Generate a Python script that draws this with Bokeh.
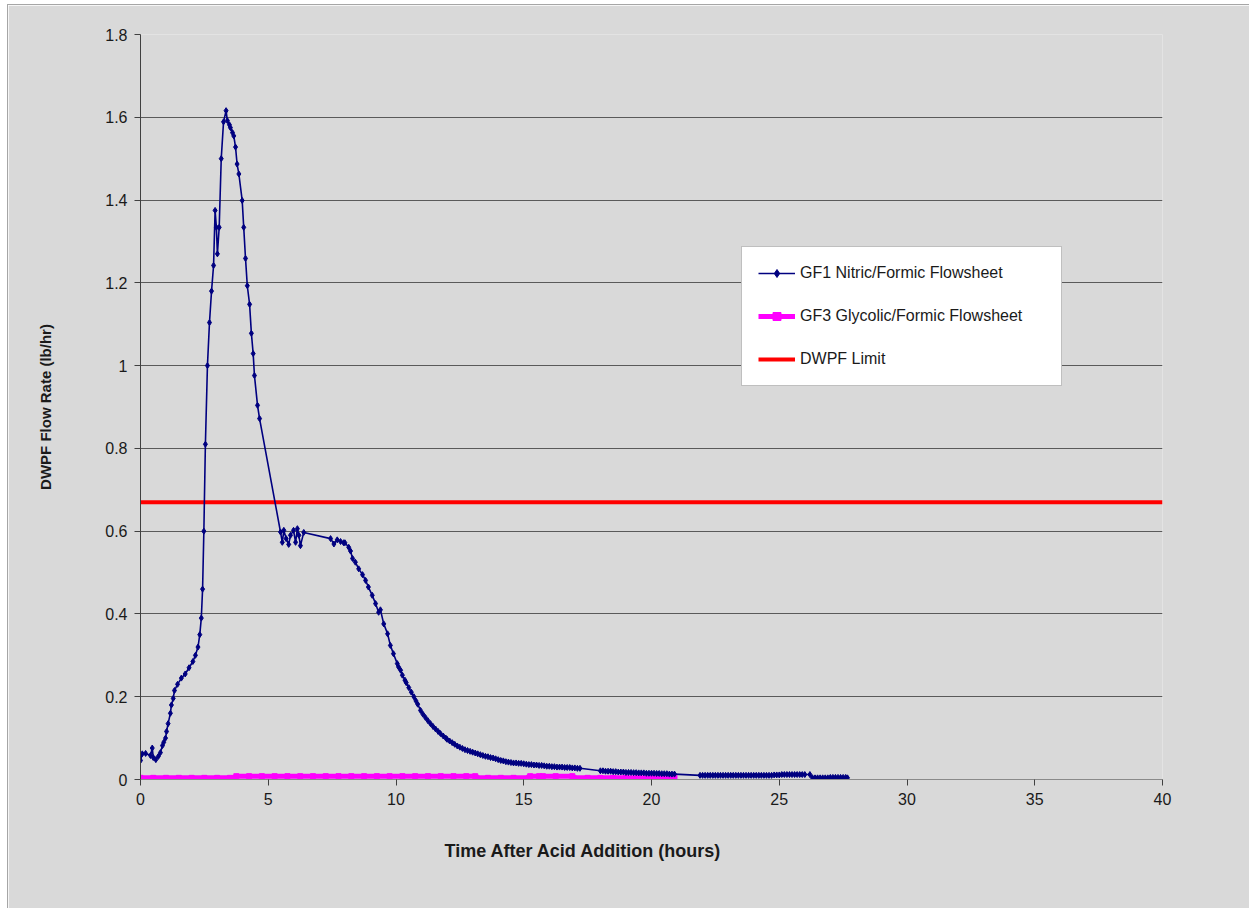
from bokeh.plotting import figure
from bokeh.models import (Range1d, FixedTicker, Legend, LegendItem, Title)
from bokeh.embed import file_html
from bokeh.resources import INLINE

# ---- data ----
gf1_head_x = [0.0, 0.07, 0.2, 0.39, 0.46, 0.5, 0.6, 0.7, 0.78, 0.86, 0.91, 0.98, 1.02, 1.08,
              1.17, 1.21, 1.28, 1.33, 1.45, 1.6, 1.75, 1.9, 2.05, 2.15, 2.25, 2.32, 2.38,
              2.43, 2.48, 2.54, 2.62, 2.70, 2.78, 2.86, 2.92, 2.97, 3.01, 3.08, 3.16, 3.25,
              3.35, 3.4, 3.48, 3.52, 3.6, 3.65, 3.72, 3.78, 3.85, 3.98, 4.04, 4.11, 4.18,
              4.27, 4.34, 4.41, 4.46, 4.58, 4.66, 5.48, 5.55, 5.61, 5.7, 5.8, 5.87, 5.99,
              6.07, 6.14, 6.2, 6.26, 6.39, 7.44, 7.57, 7.7, 7.83, 7.95, 8.0, 8.15, 8.22,
              8.3, 8.41, 8.54, 8.69, 8.81, 8.92, 9.07, 9.2, 9.32, 9.39, 9.52, 9.67, 9.78,
              9.9, 10.05, 10.1, 10.18, 10.25, 10.35, 10.4, 10.5, 10.6, 10.7, 10.78, 10.85,
              10.96, 11.05, 11.15, 11.25, 11.35, 11.45, 11.55, 11.65, 11.74, 11.85, 11.95]
gf1_head_y = [0.046, 0.062, 0.063, 0.058, 0.076, 0.053, 0.048, 0.056, 0.065, 0.082, 0.09,
              0.10, 0.116, 0.135, 0.16, 0.18, 0.196, 0.215, 0.23, 0.245, 0.255, 0.27, 0.285,
              0.30, 0.32, 0.35, 0.39, 0.46, 0.60, 0.81, 1.0, 1.104, 1.18, 1.242, 1.375,
              1.334, 1.27, 1.334, 1.50, 1.589, 1.616, 1.592, 1.582, 1.575, 1.563, 1.555,
              1.528, 1.487, 1.463, 1.399, 1.334, 1.259, 1.193, 1.148, 1.078, 1.029, 0.976,
              0.904, 0.872, 0.598, 0.573, 0.602, 0.582, 0.568, 0.59, 0.602, 0.573, 0.606,
              0.59, 0.565, 0.597, 0.582, 0.569, 0.579, 0.575, 0.572, 0.572, 0.561, 0.552,
              0.534, 0.525, 0.509, 0.495, 0.481, 0.465, 0.445, 0.425, 0.404, 0.41, 0.376,
              0.352, 0.324, 0.304, 0.28, 0.272, 0.264, 0.252, 0.24, 0.234, 0.222, 0.211,
              0.20, 0.19, 0.182, 0.167, 0.158, 0.15, 0.142, 0.135, 0.128, 0.122, 0.116,
              0.111, 0.105, 0.10]

gf1_tail_x = [12.0, 12.1, 12.2, 12.3, 12.4, 12.5, 12.6, 12.7, 12.8, 12.9, 13.0, 13.1, 13.2,
              13.3, 13.4, 13.5, 13.6, 13.7, 13.8, 13.9, 14.0, 14.1, 14.2, 14.3, 14.4, 14.5,
              14.6, 14.7, 14.8, 14.9, 15.0, 15.1, 15.2, 15.3, 15.4, 15.5, 15.6, 15.7, 15.8,
              15.9, 16.0, 16.1, 16.2, 16.3, 16.4, 16.5, 16.6, 16.7, 16.8, 16.9, 17.0, 17.1,
              17.2, 18.0, 18.1, 18.2, 18.3, 18.4, 18.5, 18.6, 18.7, 18.8, 18.9, 19.0, 19.1,
              19.2, 19.3, 19.4, 19.5, 19.6, 19.7, 19.8, 19.9, 20.0, 20.1, 20.2, 20.3, 20.4,
              20.5, 20.6, 20.7, 20.8, 20.9, 21.9, 22.0, 22.1, 22.2, 22.3, 22.4, 22.5, 22.6,
              22.7, 22.8, 22.9, 23.0, 23.1, 23.2, 23.3, 23.4, 23.5, 23.6, 23.7, 23.8, 23.9,
              24.0, 24.1, 24.2, 24.3, 24.4, 24.5, 24.6, 24.7, 24.8, 24.9, 25.0, 25.1, 25.2,
              25.3, 25.4, 25.5, 25.6, 25.7, 25.8, 25.9, 26.0, 26.2, 26.3, 26.4, 26.5, 26.6,
              26.7, 26.8, 26.9, 27.0, 27.1, 27.2, 27.3, 27.4, 27.5, 27.6, 27.67]
gf1_tail_y = [0.097, 0.093, 0.089, 0.085, 0.081, 0.078, 0.075, 0.072, 0.070, 0.068, 0.066,
              0.064, 0.062, 0.060, 0.058, 0.056, 0.055, 0.053, 0.052, 0.050, 0.048, 0.046,
              0.045, 0.043, 0.042, 0.041, 0.040, 0.040, 0.039, 0.039, 0.038, 0.037, 0.036,
              0.036, 0.035, 0.035, 0.034, 0.034, 0.033, 0.032, 0.032, 0.031, 0.031, 0.030,
              0.030, 0.030, 0.029, 0.029, 0.029, 0.028, 0.028, 0.027, 0.027, 0.021, 0.021,
              0.020, 0.020, 0.020, 0.019, 0.019, 0.018, 0.018, 0.018, 0.017, 0.017, 0.017,
              0.0165, 0.0165, 0.016, 0.016, 0.016, 0.015, 0.015, 0.015, 0.015, 0.0145,
              0.0145, 0.014, 0.014, 0.014, 0.013, 0.013, 0.013, 0.010, 0.010, 0.010, 0.010,
              0.010, 0.010, 0.010, 0.010, 0.010, 0.010, 0.010, 0.010, 0.010, 0.010, 0.010,
              0.010, 0.010, 0.010, 0.010, 0.010, 0.010, 0.010, 0.010, 0.010, 0.010, 0.010,
              0.010, 0.010, 0.010, 0.011, 0.011, 0.011, 0.012, 0.012, 0.012, 0.012, 0.012,
              0.012, 0.012, 0.012, 0.012, 0.012, 0.012, 0.004, 0.004, 0.004, 0.004, 0.004,
              0.004, 0.004, 0.005, 0.005, 0.005, 0.005, 0.005, 0.005, 0.005, 0.004, 0.0]

gf3_x = [0.0, 0.5, 1.0, 1.5, 2.0, 2.5, 3.0, 3.5, 3.7, 3.75, 4.25, 4.75, 5.25, 5.75, 6.25,
         6.75, 7.25, 7.75, 8.25, 8.75, 9.25, 9.75, 10.25, 10.75, 11.25, 11.75, 12.25,
         12.75, 13.1, 13.15, 13.6, 14.1, 14.6, 15.2, 15.25, 15.6, 15.65, 15.75, 16.25,
         16.9, 16.95, 17.5, 18.0, 18.5, 19.0, 19.5, 20.0, 20.5, 20.9]
gf3_y = [0.004, 0.004, 0.004, 0.004, 0.004, 0.004, 0.004, 0.004, 0.004, 0.008, 0.008,
         0.008, 0.008, 0.008, 0.008, 0.008, 0.008, 0.008, 0.008, 0.008, 0.008, 0.008,
         0.008, 0.008, 0.008, 0.008, 0.008, 0.008, 0.008, 0.004, 0.004, 0.004, 0.004,
         0.004, 0.008, 0.008, 0.003, 0.008, 0.008, 0.008, 0.004, 0.004, 0.004, 0.004,
         0.004, 0.004, 0.004, 0.004, 0.004]

limit_x = [0, 40]
limit_y = [0.67, 0.67]

x_ticks = [0, 5, 10, 15, 20, 25, 30, 35, 40]
y_ticks = [0, 0.2, 0.4, 0.6, 0.8, 1.0, 1.2, 1.4, 1.6, 1.8]
y_tick_labels = ["0", "0.2", "0.4", "0.6", "0.8", "1", "1.2", "1.4", "1.6", "1.8"]

gf1_x = gf1_head_x + gf1_tail_x
gf1_y = gf1_head_y + gf1_tail_y

FONT = "Liberation Sans"
BG = "#d9d9d9"
TXT = "#1a1a1a"

p = figure(width=1242, height=904, output_backend="svg", toolbar_location=None,
           x_range=Range1d(0, 40), y_range=Range1d(0, 1.8),
           min_border_left=132, min_border_right=88, min_border_top=29,
           min_border_bottom=130)
p.styles = {"margin-left": "7px", "margin-top": "4px",
            "border-left": "1px solid #a6a6a6", "border-top": "1px solid #a6a6a6"}
p.background_fill_color = BG
p.border_fill_color = BG
p.outline_line_color = None

# grid
p.xgrid.visible = False
p.ygrid.grid_line_color = "#5a5a5a"
p.ygrid.grid_line_width = 1
p.yaxis.ticker = FixedTicker(ticks=y_ticks)
p.xaxis.ticker = FixedTicker(ticks=x_ticks)
p.yaxis.major_label_overrides = {t: s for t, s in zip(y_ticks, y_tick_labels)}

for ax in (p.xaxis, p.yaxis):
    ax.major_label_text_font = FONT
    ax.major_label_text_font_size = "16px"
    ax.major_label_text_color = TXT
    ax.minor_tick_line_color = None
    ax.major_tick_in = 0
    ax.major_tick_out = 6
    ax.axis_label_text_font = FONT
    ax.axis_label_text_font_size = "15px"
    ax.axis_label_text_font_style = "bold"
    ax.axis_label_text_color = TXT

p.yaxis.axis_line_color = "#404040"
p.yaxis.major_tick_line_color = "#404040"
p.yaxis.major_label_standoff = 7
p.yaxis.axis_label = "DWPF Flow Rate (lb/hr)"
p.yaxis.axis_label_standoff = 48
p.xaxis.axis_line_color = "#8a8a8a"
p.xaxis.major_tick_line_color = "#404040"
p.xaxis.major_label_standoff = 7

# series
r_lim = p.line(limit_x, limit_y, line_color="#ff0000", line_width=4)
r_gf3l = p.line(gf3_x, gf3_y, line_color="#ff00ff", line_width=5)
r_gf3m = p.scatter(gf3_x, gf3_y, marker="square", size=5, fill_color="#ff00ff",
                   line_color="#ff00ff")
r_gf1l = p.line(gf1_x, gf1_y, line_color="#000080", line_width=1.6)
r_gf1m = p.scatter(gf1_x, gf1_y, marker="diamond", size=6, fill_color="#000080",
                   line_color="#000080")

legend = Legend(items=[
    LegendItem(label="GF1 Nitric/Formic Flowsheet", renderers=[r_gf1l, r_gf1m]),
    LegendItem(label="GF3 Glycolic/Formic Flowsheet", renderers=[r_gf3l, r_gf3m]),
    LegendItem(label="DWPF Limit", renderers=[r_lim]),
], location=(601, 393))
legend.label_text_font = FONT
legend.label_text_font_size = "16px"
legend.label_text_color = TXT
legend.background_fill_color = "white"
legend.background_fill_alpha = 1
legend.border_line_color = "#7f7f7f"
legend.border_line_width = 1
legend.padding = 16
legend.spacing = 23
legend.label_height = 20
legend.glyph_height = 20
legend.glyph_width = 37
legend.label_standoff = 5
legend.label_width = 245
legend.margin = 0
p.add_layout(legend, "center")

xlab = Title(text="Time After Acid Addition (hours)", align="left", offset=304,
             standoff=62, text_font=FONT, text_font_size="18px",
             text_font_style="bold", text_color=TXT)
p.add_layout(xlab, "below")

open("out.html", "w").write(file_html(p, INLINE))
